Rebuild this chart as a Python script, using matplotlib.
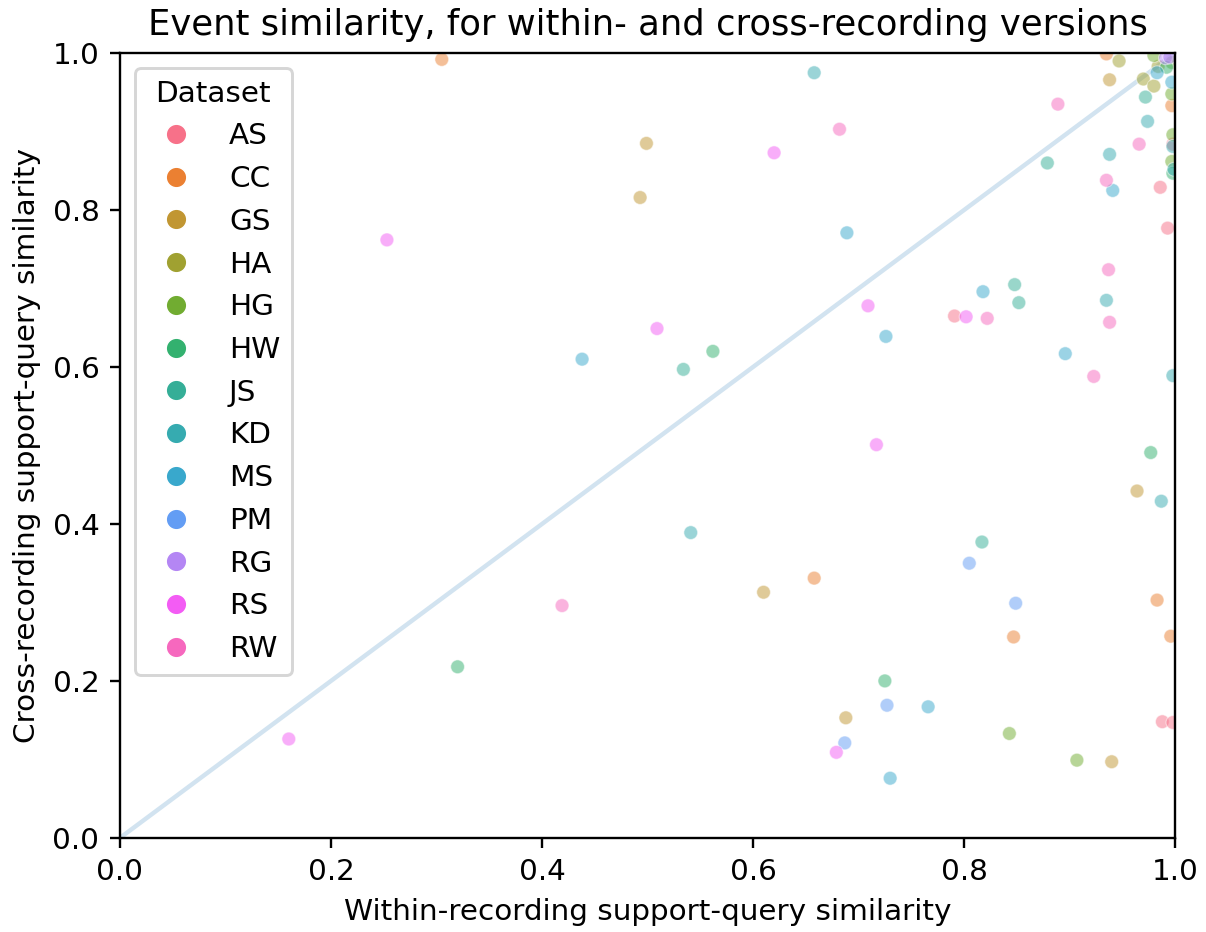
import numpy as np
import pandas as pd
import matplotlib
matplotlib.use("Agg")
import matplotlib.pyplot as plt
from matplotlib.lines import Line2D
import seaborn as sns

# within-recording (x) vs cross-recording (y) similarity, per dataset
DATASETS = ["AS", "CC", "GS", "HA", "HG", "HW", "JS", "KD", "MS", "PM", "RG", "RS", "RW"]

as_x = [0.791, 0.986, 0.993, 0.988, 0.998, 0.998]
as_y = [0.665, 0.829, 0.777, 0.148, 0.147, 0.884]
cc_x = [0.305, 0.658, 0.847, 0.983, 0.996, 0.935, 0.997]
cc_y = [0.992, 0.331, 0.256, 0.303, 0.257, 0.999, 0.933]
gs_x = [0.499, 0.493, 0.610, 0.688, 0.938, 0.964, 0.940]
gs_y = [0.885, 0.816, 0.313, 0.153, 0.966, 0.442, 0.097]
ha_x = [0.947, 0.970, 0.980, 0.984]
ha_y = [0.990, 0.967, 0.958, 0.983]
hg_x = [0.843, 0.907, 0.980, 0.997, 0.998, 0.997, 0.997]
hg_y = [0.133, 0.099, 0.997, 0.988, 0.896, 0.862, 0.948]
hw_x = [0.320, 0.562, 0.977, 0.998, 0.725, 0.992]
hw_y = [0.218, 0.620, 0.491, 0.847, 0.200, 0.982]
js_x = [0.534, 0.817, 0.848, 0.852, 0.879, 0.972]
js_y = [0.597, 0.377, 0.705, 0.682, 0.860, 0.944]
kd_x = [0.658, 0.541, 0.938, 0.974, 0.935, 0.998, 0.987, 0.999, 0.998]
kd_y = [0.975, 0.389, 0.871, 0.913, 0.685, 0.589, 0.429, 0.852, 0.881]
ms_x = [0.438, 0.689, 0.726, 0.818, 0.896, 0.941, 0.766, 0.730, 0.983, 0.997]
ms_y = [0.610, 0.771, 0.639, 0.696, 0.617, 0.825, 0.167, 0.076, 0.975, 0.963]
pm_x = [0.805, 0.849, 0.727, 0.687]
pm_y = [0.350, 0.299, 0.169, 0.121]
rg_x = [0.991, 0.995]
rg_y = [0.994, 0.995]
rs_x = [0.253, 0.509, 0.620, 0.709, 0.802, 0.717, 0.160, 0.679]
rs_y = [0.762, 0.649, 0.873, 0.678, 0.664, 0.501, 0.126, 0.109]
rw_x = [0.682, 0.822, 0.923, 0.889, 0.966, 0.935, 0.937, 0.938, 0.419]
rw_y = [0.903, 0.662, 0.588, 0.935, 0.884, 0.838, 0.724, 0.657, 0.296]

XS = [as_x, cc_x, gs_x, ha_x, hg_x, hw_x, js_x, kd_x, ms_x, pm_x, rg_x, rs_x, rw_x]
YS = [as_y, cc_y, gs_y, ha_y, hg_y, hw_y, js_y, kd_y, ms_y, pm_y, rg_y, rs_y, rw_y]

df = pd.concat([pd.DataFrame({"within": x, "cross": y, "Dataset": d})
                for d, x, y in zip(DATASETS, XS, YS)], ignore_index=True)

pal = sns.color_palette("husl", len(DATASETS))
colors = dict(zip(DATASETS, pal))

DPI = 212
fig, ax = plt.subplots(figsize=(1206 / DPI, 932 / DPI), dpi=DPI)
fig.subplots_adjust(left=0.0995, right=0.9743, bottom=0.101, top=0.943)

ax.plot([0, 1], [0, 1], color="C0", alpha=0.2, zorder=1)
sns.scatterplot(data=df, x="within", y="cross", hue="Dataset", hue_order=DATASETS,
                palette=colors, alpha=0.5, s=22, ax=ax, legend=False, zorder=2)

ax.set_xlim(0, 1)
ax.set_ylim(0, 1)
ax.set_xlabel("Within-recording support-query similarity")
ax.set_ylabel("Cross-recording support-query similarity")
ax.set_title("Event similarity, for within- and cross-recording versions")

handles = [Line2D([], [], ls="none", marker="o", markersize=7, color=colors[d],
                  markeredgecolor="white", markeredgewidth=0.5) for d in DATASETS]
ax.legend(handles, DATASETS, title="Dataset", loc="upper left")

fig.savefig("out.png", dpi=DPI)
